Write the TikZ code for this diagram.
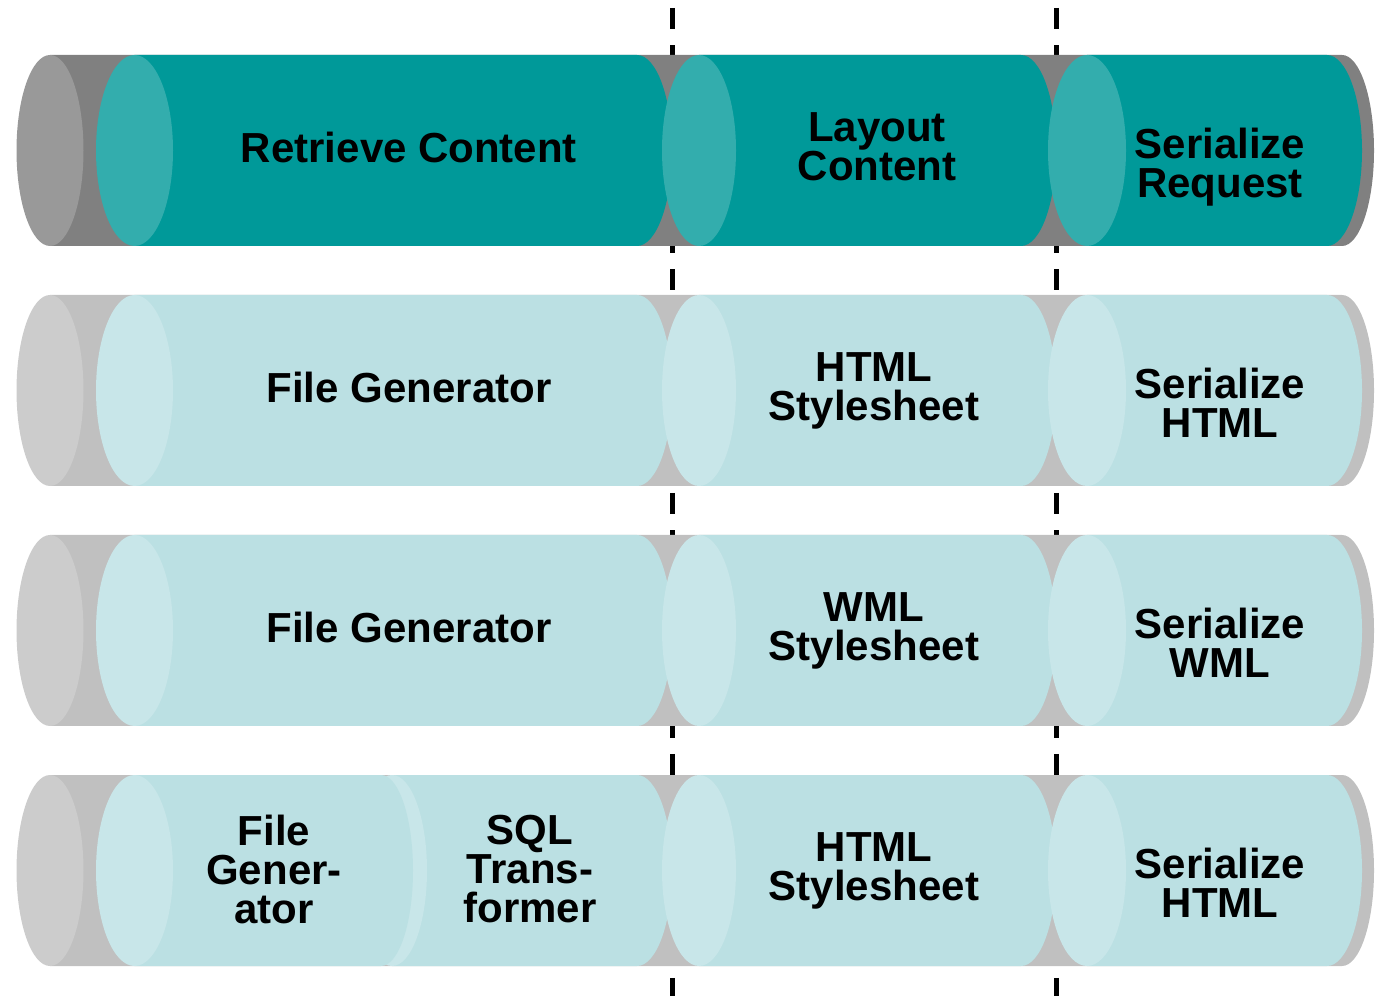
\documentclass[tikz,border=0pt]{standalone}
\usepackage{fontspec}
\setmainfont{Liberation Sans}

\definecolor{tealbody}{HTML}{009999}
\definecolor{tealface}{HTML}{33ADAD}
\definecolor{palebody}{HTML}{BBE0E3}
\definecolor{paleface}{HTML}{C8E6E9}
\definecolor{darkbase}{HTML}{808080}
\definecolor{darkbaseface}{HTML}{999999}
\definecolor{lightbase}{HTML}{C0C0C0}
\definecolor{lightbaseface}{HTML}{CCCCCC}

% #1 centre y, #2 left x, #3 right x, #4 face radius, #5 end radius, #6 body, #7 face
\newcommand{\tube}[7]{
	\fill[#6] (#2,#1+95.5) -- (#3,#1+95.5) arc[start angle=90,end angle=-90,x radius=#5,y radius=95.5] -- (#2,#1-95.5) -- cycle;
	\fill[#7] (#2,#1) ellipse[x radius=#4,y radius=95.5];
}

\begin{document}
\begin{tikzpicture}[x=1pt,y=1pt,
	txt/.style={inner sep=0pt,anchor=north,align=center,font=\bfseries\fontsize{42}{39}\selectfont},
	split/.style={line width=5pt,dash pattern=on 21pt off 16.3pt}]
	\useasboundingbox (0,0) rectangle (1380,996);

	\coordinate (splitAtop) at (672,988);
	\coordinate (splitAbot) at (672,0);
	\coordinate (splitBtop) at (1056,988);
	\coordinate (splitBbot) at (1056,0);
	\draw[split] (splitAtop) -- (splitAbot);
	\draw[split] (splitBtop) -- (splitBbot);

	\tube{845.5}{50}{1342}{33.5}{32}{darkbase}{darkbaseface}
	\tube{845.5}{134.5}{637}{38.5}{35}{tealbody}{tealface}
	\tube{845.5}{699}{1021}{37}{35}{tealbody}{tealface}
	\tube{845.5}{1087}{1327}{39}{35}{tealbody}{tealface}

	\tube{605.5}{50}{1342}{33.5}{32}{lightbase}{lightbaseface}
	\tube{605.5}{134.5}{637}{38.5}{35}{palebody}{paleface}
	\tube{605.5}{699}{1021}{37}{35}{palebody}{paleface}
	\tube{605.5}{1087}{1327}{39}{35}{palebody}{paleface}

	\tube{365.5}{50}{1342}{33.5}{32}{lightbase}{lightbaseface}
	\tube{365.5}{134.5}{637}{38.5}{35}{palebody}{paleface}
	\tube{365.5}{699}{1021}{37}{35}{palebody}{paleface}
	\tube{365.5}{1087}{1327}{39}{35}{palebody}{paleface}

	\tube{125.5}{50}{1342}{33.5}{32}{lightbase}{lightbaseface}
	\tube{125.5}{392}{637}{35}{35}{palebody}{paleface}
	\tube{125.5}{134.5}{381}{38.5}{32}{palebody}{paleface}
	\tube{125.5}{699}{1021}{37}{35}{palebody}{paleface}
	\tube{125.5}{1087}{1327}{39}{35}{palebody}{paleface}

	\node[txt] (retrieve) at (409,864) {Retrieve Content};
	\node[txt] (layout) at (877,884) {Layout\\Content};
	\node[txt] (serrequest) at (1220,868) {Serialize\\Request};

	\node[txt] (filegenA) at (409,624) {File Generator};
	\node[txt] (htmlsheetA) at (874,644) {HTML\\Stylesheet};
	\node[txt] (serhtmlA) at (1220,628) {Serialize\\HTML};

	\node[txt] (filegenB) at (409,384) {File Generator};
	\node[txt] (wmlsheet) at (874,404) {WML\\Stylesheet};
	\node[txt] (serwml) at (1220,388) {Serialize\\WML};

	\node[txt] (filegenC) at (274,181) {File\\Gener-\\ator};
	\node[txt] (sqltrans) at (530,181) {SQL\\Trans-\\former};
	\node[txt] (htmlsheetC) at (874,164) {HTML\\Stylesheet};
	\node[txt] (serhtmlC) at (1220,148) {Serialize\\HTML};
\end{tikzpicture}
\end{document}
